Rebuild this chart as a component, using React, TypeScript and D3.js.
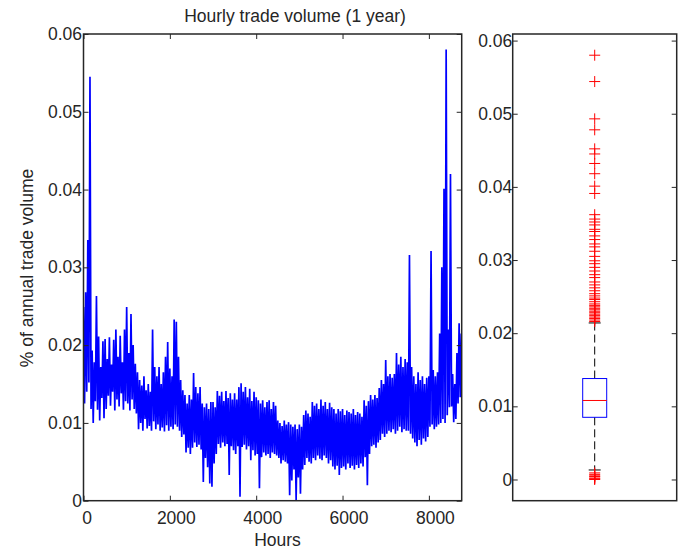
import React, { useEffect, useRef } from "react";
import * as d3 from "d3";

const binHours = 50;
const peaks = [
  0.0249, 0.0268, 0.0335, 0.0545, 0.0193, 0.0178, 0.0263, 0.0211, 0.0172, 0.0205,
  0.0208, 0.0182, 0.021, 0.0175, 0.0207, 0.022, 0.0185, 0.0212, 0.0178, 0.022,
  0.0249, 0.019, 0.024, 0.02, 0.0176, 0.0165, 0.0155, 0.0148, 0.016, 0.0142,
  0.015, 0.014, 0.022, 0.0172, 0.016, 0.0172, 0.015, 0.0165, 0.0185, 0.0204,
  0.017, 0.016, 0.0233, 0.023, 0.0185, 0.0155, 0.0142, 0.0136, 0.0125, 0.0136,
  0.013, 0.0164, 0.0146, 0.0138, 0.0146, 0.0125, 0.012, 0.0125, 0.0118, 0.0127,
  0.0127, 0.012, 0.0141, 0.0135, 0.014, 0.0128, 0.0141, 0.0132, 0.0138, 0.013,
  0.0138, 0.013, 0.0146, 0.0151, 0.014, 0.0146, 0.0133, 0.0144, 0.0128, 0.014,
  0.0133, 0.0129, 0.0125, 0.0129, 0.012, 0.0127, 0.0129, 0.0118, 0.0127, 0.0122,
  0.0103, 0.01, 0.0096, 0.0103, 0.0098, 0.0101, 0.0098, 0.0095, 0.0098, 0.0092,
  0.0098, 0.0095, 0.011, 0.0116, 0.0112, 0.0108, 0.0127, 0.0122, 0.0125, 0.0118,
  0.013, 0.0122, 0.0127, 0.0118, 0.0126, 0.012, 0.0118, 0.0112, 0.0118, 0.0115,
  0.0118, 0.011, 0.0116, 0.0114, 0.0112, 0.0118, 0.011, 0.0114, 0.0112, 0.0108,
  0.0129, 0.0122, 0.0128, 0.0136, 0.013, 0.0136, 0.0132, 0.0145, 0.0155, 0.015,
  0.0181, 0.016, 0.0163, 0.0158, 0.0163, 0.019, 0.0175, 0.0185, 0.0172, 0.0182,
  0.0178, 0.0316, 0.0172, 0.016, 0.015, 0.0165, 0.0155, 0.016, 0.015, 0.0158,
  0.016, 0.0321, 0.0168, 0.016, 0.0165, 0.0215, 0.03, 0.0401, 0.058, 0.022,
  0.042, 0.0163, 0.015, 0.019, 0.0228, 0.0215,
];
const dips = [
  0.0125, 0.014, 0.0152, 0.0118, 0.01, 0.0128, 0.0117, 0.0103, 0.0132, 0.0106,
  0.0118, 0.0135, 0.0122, 0.014, 0.0116, 0.013, 0.0121, 0.0138, 0.0117, 0.0128,
  0.0125, 0.0116, 0.013, 0.0118, 0.0112, 0.0092, 0.01, 0.009, 0.0105, 0.0093,
  0.0096, 0.009, 0.0102, 0.0092, 0.0098, 0.009, 0.0094, 0.0089, 0.0097, 0.009,
  0.0095, 0.0092, 0.0098, 0.0095, 0.009, 0.0082, 0.0085, 0.0062, 0.0068, 0.006,
  0.0068, 0.0075, 0.0069, 0.0072, 0.0066, 0.0024, 0.0055, 0.0043, 0.0022, 0.0018,
  0.0048, 0.006, 0.0073, 0.0068, 0.0075, 0.007, 0.0073, 0.0033, 0.007, 0.0065,
  0.006, 0.007, 0.0005, 0.0069, 0.0072, 0.0066, 0.007, 0.0052, 0.0065, 0.0058,
  0.006, 0.0016, 0.0056, 0.0062, 0.0058, 0.006, 0.0055, 0.0062, 0.006, 0.0058,
  0.0055, 0.0048, 0.0052, 0.005, 0.0048, 0.0007, 0.0026, 0.004, 0.0001, 0.003,
  0.0009, 0.004, 0.0046, 0.0055, 0.005, 0.0048, 0.0055, 0.0052, 0.0058, 0.0054,
  0.0052, 0.0058, 0.0055, 0.0048, 0.0052, 0.0044, 0.004, 0.0045, 0.0033, 0.0042,
  0.0044, 0.004, 0.0048, 0.0042, 0.0045, 0.004, 0.0046, 0.0042, 0.0048, 0.0044,
  0.0056, 0.002, 0.006, 0.007, 0.0072, 0.0068, 0.0075, 0.0078, 0.0086, 0.0082,
  0.0086, 0.009, 0.0088, 0.0092, 0.0086, 0.009, 0.0095, 0.0088, 0.0092, 0.009,
  0.009, 0.0086, 0.008, 0.0075, 0.007, 0.0078, 0.0072, 0.008, 0.0076, 0.0082,
  0.0095, 0.0098, 0.0092, 0.0095, 0.0098, 0.01, 0.0105, 0.01, 0.011, 0.012,
  0.0121, 0.0101, 0.0105, 0.0125, 0.0133, 0.014,
];

// boxplot summary
const boxStats = { lowWhisker: 0.0013, q1: 0.0085, median: 0.0108, q3: 0.0138, highWhisker: 0.0214 };
const outliers = [
  0.058, 0.0544, 0.0493, 0.0478, 0.0452, 0.0445, 0.0432, 0.0418, 0.0401, 0.0391,
  0.0362, 0.0356, 0.0352, 0.0348, 0.0342, 0.0339, 0.0333, 0.0328, 0.0322, 0.0318,
  0.0312, 0.0305, 0.0299, 0.0295, 0.029, 0.0285, 0.028, 0.0276, 0.027, 0.0266,
  0.0262, 0.0258, 0.0254, 0.0251, 0.0248, 0.0246, 0.0243, 0.024, 0.0238, 0.0236,
  0.0234, 0.0232, 0.023, 0.0228, 0.0226, 0.0224, 0.0222, 0.022, 0.0218, 0.0216,
  0.0009, 0.0007, 0.0005, 0.0004, 0.0002, 0.0001, 0,
];

const hourTicks = [0, 2000, 4000, 6000, 8000];
const valueTicks = [0, 0.01, 0.02, 0.03, 0.04, 0.05, 0.06];
const hoursInYear = 8760;

const font = "'Liberation Sans', Arial, Helvetica, sans-serif";
const ink = "#262626";

export default function App() {
  const svgRef = useRef<SVGSVGElement>(null);

  useEffect(() => {
    const svg = d3.select(svgRef.current);
    svg.selectAll("*").remove();

    const L = { left: 83.5, right: 461.7, top: 34, bottom: 500.7 };
    const R = { left: 512.7, right: 676.7, top: 34, bottom: 500.7 };

    const x = d3.scaleLinear().domain([0, hoursInYear]).range([L.left, L.right]);
    const y = d3.scaleLinear().domain([0, 0.06]).range([L.bottom, L.top]);

    // matlab style: 5% padding around the box data
    const all = outliers.concat([boxStats.lowWhisker, boxStats.highWhisker]);
    const lo = d3.min(all)!, hi = d3.max(all)!;
    const pad = (hi - lo) * 0.05;
    const yR = d3.scaleLinear().domain([lo - pad, hi + pad]).range([R.bottom, R.top]);

    //line series
    svg.append("clipPath").attr("id", "plotclip")
      .append("rect")
      .attr("x", L.left).attr("y", L.top)
      .attr("width", L.right - L.left).attr("height", L.bottom - L.top);

    const pts: [number, number][] = [];
    peaks.forEach((p, i) => {
      pts.push([i * binHours, p]);
      pts.push([i * binHours + binHours / 2, dips[i]]);
    });
    const line = d3.line<[number, number]>().x((d) => x(d[0])).y((d) => y(d[1]));
    svg.append("path")
      .datum(pts)
      .attr("d", line)
      .attr("fill", "none")
      .attr("stroke", "#0000ff")
      .attr("stroke-width", 1.7)
      .attr("stroke-linejoin", "miter")
      .attr("stroke-miterlimit", 2)
      .attr("clip-path", "url(#plotclip)");

    //axes
    const styleAxis = (g: any) => {
      g.select(".domain").remove();
      g.selectAll(".tick line").attr("stroke", ink).attr("stroke-width", 1);
      g.selectAll("text").attr("fill", ink).style("font-family", font).style("font-size", "17.5px");
    };
    const fmt = d3.format("~g");

    svg.append("g")
      .attr("transform", `translate(0,${L.bottom})`)
      .call(d3.axisBottom(x).tickValues(hourTicks).tickSizeInner(-5).tickSizeOuter(0).tickPadding(10.5).tickFormat(fmt as any))
      .call(styleAxis)
      .selectAll("text").attr("dx", (d: any) => (d === 0 ? 3 : 6));
    svg.append("g")
      .attr("transform", `translate(0,${L.top})`)
      .call(d3.axisTop(x).tickValues(hourTicks).tickSizeInner(-5).tickSizeOuter(0).tickFormat(() => ""))
      .call(styleAxis);
    svg.append("g")
      .attr("transform", `translate(${L.left},0)`)
      .call(d3.axisLeft(y).tickValues(valueTicks).tickSizeInner(-5).tickSizeOuter(0).tickPadding(1.5).tickFormat(fmt as any))
      .call(styleAxis);
    svg.append("g")
      .attr("transform", `translate(${L.right},0)`)
      .call(d3.axisRight(y).tickValues(valueTicks).tickSizeInner(-5).tickSizeOuter(0).tickFormat(() => ""))
      .call(styleAxis);

    svg.append("g")
      .attr("transform", `translate(${R.left},0)`)
      .call(d3.axisLeft(yR).tickValues(valueTicks).tickSizeInner(-5).tickSizeOuter(0).tickPadding(0.5).tickFormat(fmt as any))
      .call(styleAxis);
    svg.append("g")
      .attr("transform", `translate(${R.right},0)`)
      .call(d3.axisRight(yR).tickValues(valueTicks).tickSizeInner(-5).tickSizeOuter(0).tickFormat(() => ""))
      .call(styleAxis);

    // frames
    [L, R].forEach((b) => {
      svg.append("rect")
        .attr("x", b.left).attr("y", b.top)
        .attr("width", b.right - b.left).attr("height", b.bottom - b.top)
        .attr("fill", "none").attr("stroke", ink).attr("stroke-width", 1.5);
    });

    //boxplot
    const cx = (R.left + R.right) / 2;
    const bw = 12;
    svg.append("line")
      .attr("x1", cx).attr("x2", cx)
      .attr("y1", yR(boxStats.q3)).attr("y2", yR(boxStats.highWhisker))
      .attr("stroke", "#000").attr("stroke-dasharray", "8,4");
    svg.append("line")
      .attr("x1", cx).attr("x2", cx)
      .attr("y1", yR(boxStats.q1)).attr("y2", yR(boxStats.lowWhisker))
      .attr("stroke", "#000").attr("stroke-dasharray", "8,4");
    [boxStats.lowWhisker, boxStats.highWhisker].forEach((v) => {
      svg.append("line")
        .attr("x1", cx - bw / 2).attr("x2", cx + bw / 2)
        .attr("y1", yR(v)).attr("y2", yR(v))
        .attr("stroke", "#000");
    });
    svg.append("rect")
      .attr("x", cx - bw).attr("y", yR(boxStats.q3))
      .attr("width", bw * 2).attr("height", yR(boxStats.q1) - yR(boxStats.q3))
      .attr("fill", "none").attr("stroke", "#0000ff").attr("stroke-width", 1);
    svg.append("line")
      .attr("x1", cx - bw).attr("x2", cx + bw)
      .attr("y1", yR(boxStats.median)).attr("y2", yR(boxStats.median))
      .attr("stroke", "#ff0000");

    const plus = svg.append("g").attr("stroke", "#ff0000").attr("stroke-width", 1);
    outliers.forEach((v) => {
      const py = yR(v);
      plus.append("line").attr("x1", cx - 5.5).attr("x2", cx + 5.5).attr("y1", py).attr("y2", py);
      plus.append("line").attr("x1", cx).attr("x2", cx).attr("y1", py - 5.5).attr("y2", py + 5.5);
    });

    // texts
    svg.append("text")
      .attr("x", 295).attr("y", 22)
      .attr("text-anchor", "middle")
      .attr("fill", ink).style("font-family", font).style("font-size", "17.5px")
      .text("Hourly trade volume (1 year)");
    svg.append("text")
      .attr("x", 277.5).attr("y", 545.5)
      .attr("text-anchor", "middle")
      .attr("fill", ink).style("font-family", font).style("font-size", "17.5px")
      .text("Hours");
    svg.append("text")
      .attr("transform", "translate(33,268) rotate(-90)")
      .attr("text-anchor", "middle")
      .attr("fill", ink).style("font-family", font).style("font-size", "17.5px")
      .text("% of annual trade volume");
  }, []);

  return (
    <div style={{ position: "absolute", left: 0, top: 0 }}>
      <svg ref={svgRef} width={694} height={552} style={{ display: "block", background: "#fff" }} />
    </div>
  );
}
